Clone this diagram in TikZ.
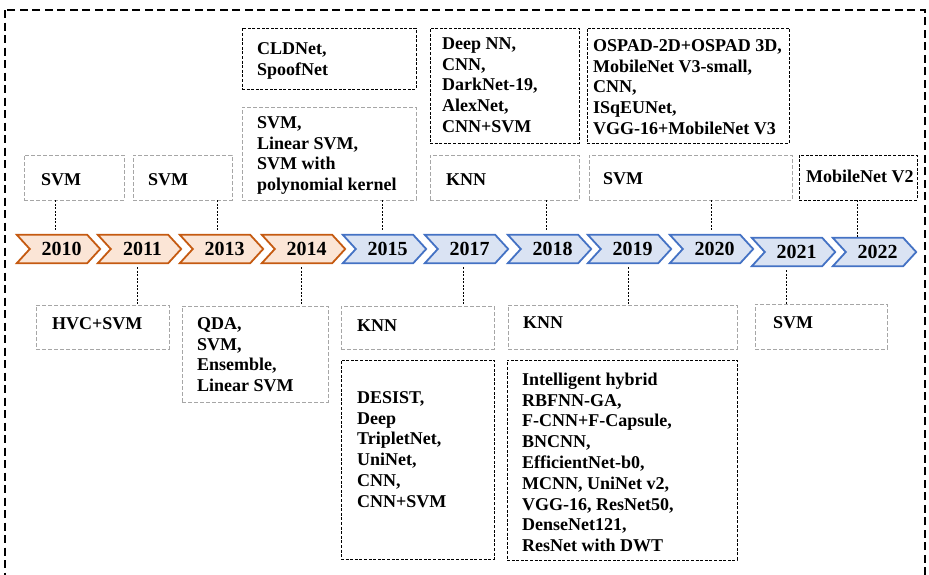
\documentclass[tikz,border=0pt]{standalone}
\usepackage{fontspec}
\setmainfont{Liberation Serif}
\usetikzlibrary{fit,backgrounds}
\definecolor{orBd}{HTML}{C55A11}
\definecolor{orFill}{HTML}{FBE5D6}
\definecolor{blBd}{HTML}{4472C4}
\definecolor{blFill}{HTML}{DAE3F3}
\definecolor{boxGray}{HTML}{A6A6A6}
\newcommand\fls{\rule{0pt}{14pt}}
\begin{document}
\begin{tikzpicture}[x=1pt,y=1pt,
 gbox/.style={draw=boxGray, line width=0.8pt, dash pattern=on 4pt off 2pt, inner sep=0pt},
 kbox/.style={draw=black, line width=0.9pt, dash pattern=on 3pt off 1.6pt, inner sep=0pt},
 txt/.style={font=\fontsize{18}{20.8}\selectfont\bfseries, align=left, inner sep=0pt, anchor=north west},
 yr/.style={minimum width=83pt, minimum height=28pt, inner sep=0pt, font=\fontsize{20}{22}\selectfont\bfseries},
 conn/.style={draw=black, line width=0.8pt, dash pattern=on 2pt off 1.5pt},
 chevor/.style={draw=orBd, fill=orFill, line width=1.8pt, line join=miter},
 chevbl/.style={draw=blBd, fill=blFill, line width=1.8pt, line join=miter},
 outer/.style={draw=black, line width=1.7pt, dash pattern=on 8pt off 4.5pt}
]
\useasboundingbox (0,0) rectangle (929,-574);
\draw[outer] (5,-10) rectangle (925,-620);

% year nodes
\node[yr] (y2010) at (58.5,-249) {\hspace*{6pt}\raisebox{-1.5pt}{2010}};
\node[yr] (y2011) at (139.5,-249) {\hspace*{6pt}\raisebox{-1.5pt}{2011}};
\node[yr] (y2013) at (221.5,-249) {\hspace*{6pt}\raisebox{-1.5pt}{2013}};
\node[yr] (y2014) at (303.5,-249) {\hspace*{6pt}\raisebox{-1.5pt}{2014}};
\node[yr] (y2015) at (384.5,-249) {\hspace*{6pt}\raisebox{-1.5pt}{2015}};
\node[yr] (y2017) at (466.5,-249) {\hspace*{6pt}\raisebox{-1.5pt}{2017}};
\node[yr] (y2018) at (549.5,-249) {\hspace*{6pt}\raisebox{-1.5pt}{2018}};
\node[yr] (y2019) at (629.5,-249) {\hspace*{6pt}\raisebox{-1.5pt}{2019}};
\node[yr] (y2020) at (711.5,-249) {\hspace*{6pt}\raisebox{-1.5pt}{2020}};
\node[yr] (y2021) at (793.5,-252) {\hspace*{6pt}\raisebox{-1.5pt}{2021}};
\node[yr] (y2022) at (874.5,-252) {\hspace*{6pt}\raisebox{-1.5pt}{2022}};

\begin{scope}[on background layer]
\foreach \n in {y2010,y2011,y2013,y2014}
  \draw[chevor] (\n.north west) -- ([xshift=-13pt]\n.north east) -- (\n.east)
    -- ([xshift=-13pt]\n.south east) -- (\n.south west) -- ([xshift=13pt]\n.west) -- cycle;
\foreach \n in {y2015,y2017,y2018,y2019,y2020,y2021,y2022}
  \draw[chevbl] (\n.north west) -- ([xshift=-13pt]\n.north east) -- (\n.east)
    -- ([xshift=-13pt]\n.south east) -- (\n.south west) -- ([xshift=13pt]\n.west) -- cycle;
\end{scope}

% top boxes
\node[gbox, fit={(24,-155) (124,-200)}] (b2010) {};
\node[gbox, fit={(133,-155) (232,-200)}] (b2013) {};
\node[gbox, fit={(242,-107) (416,-200)}] (b2015) {};
\node[kbox, fit={(242,-28) (416,-89)}] (c2015) {};
\node[gbox, fit={(430,-155) (579,-200)}] (b2018) {};
\node[kbox, fit={(430,-28) (579,-143)}] (c2018) {};
\node[gbox, fit={(589,-155) (792,-200)}] (b2020) {};
\node[kbox, fit={(587,-28) (789,-143)}] (c2020) {};
\node[kbox, fit={(799,-155) (917,-200)}] (c2022) {};
% bottom boxes
\node[gbox, fit={(36,-305) (169,-349)}] (b2011) {};
\node[gbox, fit={(182,-306) (328,-402)}] (b2014) {};
\node[gbox, fit={(341,-306) (494,-349)}] (b2017) {};
\node[kbox, fit={(341,-360) (494,-559)}] (c2017) {};
\node[gbox, fit={(508,-305) (737,-349)}] (b2019) {};
\node[kbox, fit={(507,-360) (737,-560)}] (c2019) {};
\node[gbox, fit={(755,-304) (887,-349)}] (b2021) {};

% texts
\node[txt] (t2010) at (41,-171) {\fls SVM};
\node[txt] (t2013) at (148,-171) {\fls SVM};
\node[txt] (t2015b) at (257,-114) {\fls SVM,\\Linear SVM,\\SVM with\\polynomial kernel};
\node[txt] (t2015c) at (257,-40) {\fls CLDNet,\\SpoofNet};
\node[txt] (t2018b) at (446,-171) {\fls KNN};
\node[txt] (t2018c) at (442,-35) {\fls Deep NN,\\CNN,\\DarkNet-19,\\AlexNet,\\CNN+SVM};
\node[txt] (t2020b) at (603,-170) {\fls SVM};
\node[txt] (t2020c) at (593,-37) {\fls OSPAD-2D+OSPAD 3D,\\MobileNet V3-small,\\CNN,\\ISqEUNet,\\VGG-16+MobileNet V3};
\node[txt] (t2022) at (806,-168) {\fls MobileNet V2};
\node[txt] (t2011) at (52,-315) {\fls HVC+SVM};
\node[txt] (t2014) at (197,-315) {\fls QDA,\\SVM,\\Ensemble,\\Linear SVM};
\node[txt] (t2017b) at (357,-317) {\fls KNN};
\node[txt] (t2017c) at (357,-389) {\fls DESIST,\\Deep\\TripletNet,\\UniNet,\\CNN,\\CNN+SVM};
\node[txt] (t2019b) at (523,-314) {\fls KNN};
\node[txt] (t2019c) at (522,-371) {\fls Intelligent hybrid\\RBFNN-GA,\\F-CNN+F-Capsule,\\BNCNN,\\EfficientNet-b0,\\MCNN,\ UniNet v2,\\VGG-16, ResNet50,\\DenseNet121,\\ResNet with DWT};
\node[txt] (t2021) at (773,-314) {\fls SVM};

% connectors
\draw[conn] (b2010.south -| 55,0) -- ([yshift=4pt]y2010.north -| 55,0);
\draw[conn] (b2013.south -| 217,0) -- ([yshift=4pt]y2013.north -| 217,0);
\draw[conn] (b2015.south -| 382,0) -- ([yshift=4pt]y2015.north -| 382,0);
\draw[conn] (b2018.south -| 546,0) -- ([yshift=4pt]y2018.north -| 546,0);
\draw[conn] (b2020.south -| 711,0) -- ([yshift=4pt]y2020.north -| 711,0);
\draw[conn] (c2022.south -| 857,0) -- ([yshift=1pt]y2022.north -| 857,0);
\draw[conn] ([yshift=-4pt]y2011.south -| 137,0) -- (b2011.north -| 137,0);
\draw[conn] ([yshift=-4pt]y2014.south -| 301,0) -- (b2014.north -| 301,0);
\draw[conn] ([yshift=-4pt]y2017.south -| 463,0) -- (b2017.north -| 463,0);
\draw[conn] ([yshift=-4pt]y2019.south -| 628,0) -- (b2019.north -| 628,0);
\draw[conn] ([yshift=-4pt]y2021.south -| 786,0) -- (b2021.north -| 786,0);
\end{tikzpicture}
\end{document}
